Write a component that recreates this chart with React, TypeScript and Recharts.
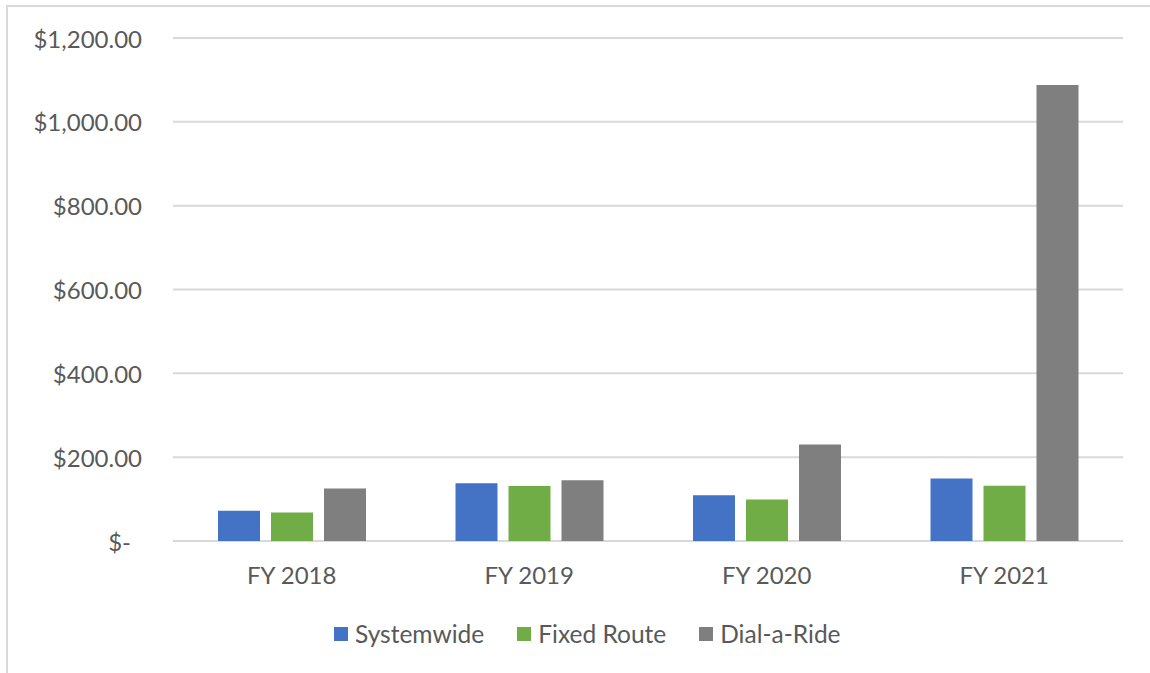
import React from 'react';
import { BarChart, Bar, XAxis, YAxis, CartesianGrid } from 'recharts';

// Fiscal years along the x axis
const fiscalYears = ['FY 2018', 'FY 2019', 'FY 2020', 'FY 2021'];

// Cost per passenger by service type
const systemwide = [72, 138, 109, 149];
const fixedRoute = [68, 131, 99, 132];
const dialARide = [125, 145, 230, 1088];

const yTicks = [0, 200, 400, 600, 800, 1000, 1200];

const seriesInfo = [
  { key: 'Systemwide', color: '#4472c4' },
  { key: 'Fixed Route', color: '#70ad47' },
  { key: 'Dial-a-Ride', color: '#7f7f7f' },
];

const FONT = 'Lato, "Liberation Sans", sans-serif';
const TEXT = '#595959';

const chartData = fiscalYears.map((year, i) => ({
  year,
  Systemwide: systemwide[i],
  'Fixed Route': fixedRoute[i],
  'Dial-a-Ride': dialARide[i],
}));

// Accounting style: zero shows as a dash
const formatMoney = (v: number) =>
  v === 0
    ? '$-'
    : '$' + v.toLocaleString('en-US', { minimumFractionDigits: 2, maximumFractionDigits: 2 });

const MoneyTick = (props: any) => {
  const { y, payload } = props;
  const v = payload.value as number;
  return (
    <text
      x={v === 0 ? 131 : 142}
      y={y}
      textAnchor="end"
      dominantBaseline="central"
      fill={TEXT}
      fontSize={24}
      fontFamily={FONT}
    >
      {formatMoney(v)}
    </text>
  );
};

const LegendRow = () => (
  <div
    style={{
      position: 'absolute',
      left: 334,
      top: 620,
      display: 'flex',
      alignItems: 'center',
      fontFamily: FONT,
      fontSize: 24.5,
      color: TEXT,
      lineHeight: '28px',
    }}
  >
    {seriesInfo.map((s) => (
      <div key={s.key} style={{ display: 'flex', alignItems: 'center', marginRight: 33 }}>
        <span style={{ width: 14, height: 14, background: s.color, marginRight: 7, display: 'inline-block' }} />
        <span>{s.key}</span>
      </div>
    ))}
  </div>
);

export default function App() {
  return (
    <div style={{ position: 'absolute', left: 0, top: 0, width: 1150, height: 673, background: '#fff', overflow: 'hidden' }}>
      {/* outer chart frame, running off the right and bottom edges */}
      <div
        style={{
          position: 'absolute',
          left: 6,
          top: 5,
          width: 1160,
          height: 680,
          borderLeft: '2px solid #d9d9d9',
          borderTop: '2px solid #d9d9d9',
        }}
      />
      <BarChart
        width={1150}
        height={673}
        data={chartData}
        margin={{ top: 38, right: 27, bottom: 102, left: 0 }}
        barSize={42}
        barGap={11}
        style={{ position: 'absolute', left: 0, top: 0 }}
      >
        <CartesianGrid vertical={false} stroke="#d9d9d9" strokeWidth={2} />
        <XAxis
          dataKey="year"
          axisLine={false}
          tickLine={false}
          tickMargin={20}
          height={30}
          tick={{ fill: TEXT, fontSize: 24, fontFamily: FONT }}
        />
        <YAxis
          width={173}
          domain={[0, 1200]}
          ticks={yTicks}
          axisLine={false}
          tickLine={false}
          tick={<MoneyTick />}
        />
        {seriesInfo.map((s) => (
          <Bar key={s.key} dataKey={s.key} fill={s.color} isAnimationActive={false} />
        ))}
      </BarChart>
      <LegendRow />
    </div>
  );
}
